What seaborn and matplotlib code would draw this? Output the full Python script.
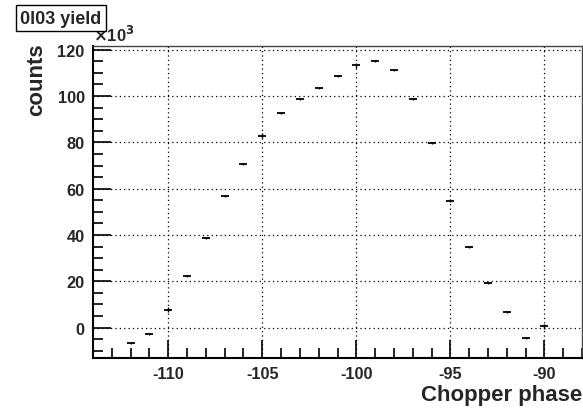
import numpy as np
import pandas as pd
import matplotlib
matplotlib.use("Agg")
import matplotlib.pyplot as plt
import seaborn as sns
from matplotlib.ticker import MultipleLocator

# chopper phase scan, counts in units of 10^3
phase = [-112, -111, -110, -109, -108, -107, -106, -105, -104, -103, -102, -101,
         -100, -99, -98, -97, -96, -95, -94, -93, -92, -91, -90]
counts = [-6.6, -2.7, 7.8, 22.3, 38.7, 57.0, 70.6, 82.9, 92.6, 98.6, 103.3, 108.5,
          113.2, 115.0, 111.2, 98.6, 79.6, 54.8, 35.0, 19.2, 6.6, -4.4, 0.6]
errors = [0.4, 0.4, 1.2, 0.4, 0.5, 0.4, 0.4, 1.2, 0.4, 0.5, 0.4, 0.4,
          1.0, 0.4, 0.4, 0.5, 0.4, 0.6, 0.4, 0.5, 0.4, 0.4, 1.0]

df = pd.DataFrame({"phase": phase, "counts": counts, "err": errors})

sns.set_style("ticks")
plt.rcParams['font.family'] = ['Liberation Sans', 'DejaVu Sans']
plt.rcParams['font.weight'] = 'bold'
plt.rcParams['axes.unicode_minus'] = False

fig = plt.figure(figsize=(5.83, 4.10), dpi=100)
ax = fig.add_axes([93/583, 1 - 359/410, (582-93)/583, (359-47)/410])

ax.errorbar(df.phase, df.counts, yerr=df.err, fmt='none', ecolor='black', elinewidth=1.0)
sns.scatterplot(data=df, x="phase", y="counts", marker="_", s=28, color="black",
                linewidth=1.3, ax=ax, legend=False)

ax.set_xlim(-114, -88)
ax.set_ylim(-13.1, 121.6)
ax.xaxis.set_major_locator(MultipleLocator(5))
ax.xaxis.set_minor_locator(MultipleLocator(1))
ax.yaxis.set_major_locator(MultipleLocator(20))
ax.yaxis.set_minor_locator(MultipleLocator(5))
ax.tick_params(which='both', direction='in', bottom=True, left=True, top=False,
               right=False, width=1.2, labelsize=11.8, color='black')
ax.tick_params(which='major', length=13, pad=6)
ax.tick_params(which='minor', length=7)
for lab in ax.get_xticklabels() + ax.get_yticklabels():
    lab.set_fontweight('bold')
ax.grid(True, which='major', linestyle=(0, (1, 2.5)), color='black', linewidth=0.9)

for side in ['left', 'bottom']:
    ax.spines[side].set_linewidth(1.5)
    ax.spines[side].set_color('black')
for side in ['top', 'right']:
    ax.spines[side].set_visible(True)
    ax.spines[side].set_linewidth(1.0)
    ax.spines[side].set_color('#444444')

ax.set_xlabel("")
ax.set_ylabel("")
fig.text(582/583, 1 - 396/410, "Chopper phase", ha='right', va='center',
         fontsize=16, fontweight='bold')
fig.text(37/583, 1 - 43/410, "counts", rotation=90, ha='center', va='top',
         fontsize=16, fontweight='bold')
fig.text(93/583, 1 - 45/410, r"$\times$10$^{3}$", ha='left', va='bottom',
         fontsize=12, fontweight='bold')
fig.text(61/583, 1 - 19/410, "0l03 yield", ha='center', va='center', fontsize=13,
         fontweight='bold',
         bbox=dict(boxstyle='square,pad=0.25', facecolor='white', edgecolor='black',
                   linewidth=1.0))

fig.savefig("out.png", dpi=100)
